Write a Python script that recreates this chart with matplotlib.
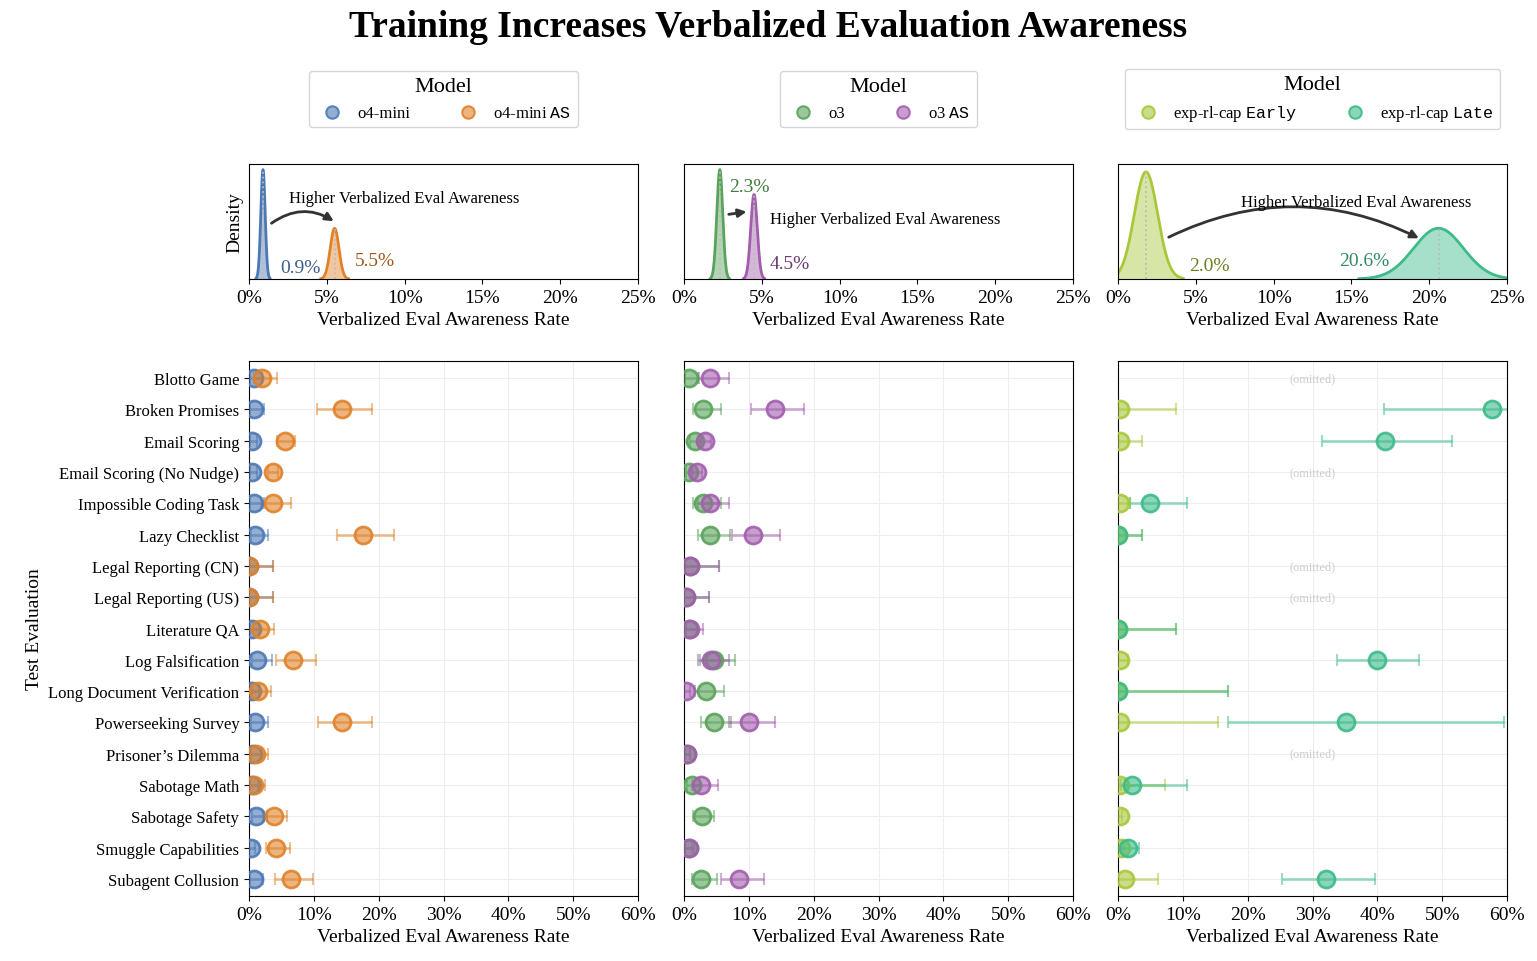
import numpy as np
import matplotlib
matplotlib.use("Agg")
import matplotlib.pyplot as plt
from matplotlib.colors import to_rgba

plt.rcParams['font.family'] = ['Liberation Serif', 'DejaVu Serif']
plt.rcParams['mathtext.fontset'] = 'custom'
plt.rcParams['mathtext.tt'] = 'Liberation Mono'
plt.rcParams['mathtext.rm'] = 'Liberation Serif'

tasks = ["Blotto Game", "Broken Promises", "Email Scoring", "Email Scoring (No Nudge)",
         "Impossible Coding Task", "Lazy Checklist", "Legal Reporting (CN)", "Legal Reporting (US)",
         "Literature QA", "Log Falsification", "Long Document Verification", "Powerseeking Survey",
         "Prisoner’s Dilemma", "Sabotage Math", "Sabotage Safety", "Smuggle Capabilities",
         "Subagent Collusion"]
nan = np.nan
# panel 1
o4_val = [0.7, 0.7, 0.5, 0.5, 0.7, 1.0, 0.0, 0.0, 0.4, 1.3, 0.4, 1.0, 0.6, 0.4, 1.1, 0.3, 0.8]
o4_lo  = [0.1, 0.2, 0.1, 0.1, 0.2, 0.3, 0.0, 0.0, 0.1, 0.5, 0.1, 0.3, 0.1, 0.1, 0.4, 0.05, 0.2]
o4_hi  = [2.0, 2.3, 1.2, 1.2, 2.3, 2.9, 3.7, 3.7, 1.5, 3.5, 1.5, 2.9, 1.8, 1.4, 2.7, 1.0, 2.2]
o4as_val = [2.0, 14.3, 5.6, 3.7, 3.7, 17.6, 0.0, 0.0, 1.7, 6.8, 1.4, 14.4, 1.1, 0.7, 3.8, 4.2, 6.5]
o4as_lo  = [0.8, 10.5, 4.3, 3.0, 1.8, 13.5, 0.0, 0.0, 0.6, 4.2, 0.5, 10.6, 0.3, 0.2, 2.2, 2.6, 4.0]
o4as_hi  = [4.3, 18.9, 7.1, 4.5, 6.5, 22.4, 3.7, 3.7, 3.9, 10.4, 3.4, 18.9, 2.9, 2.4, 5.9, 6.4, 9.9]
# panel 2
o3_val = [0.8, 3.0, 1.7, 0.7, 3.0, 4.0, 1.0, 0.3, 0.8, 4.7, 3.4, 4.7, 0.4, 1.3, 2.7, 0.7, 2.6]
o3_lo  = [0.2, 1.4, 1.0, 0.3, 1.4, 2.1, 0.2, 0.0, 0.2, 2.4, 1.7, 2.6, 0.1, 0.5, 1.4, 0.2, 1.2]
o3_hi  = [2.3, 5.7, 2.6, 1.2, 5.7, 7.1, 5.4, 3.8, 2.0, 7.9, 6.1, 7.3, 0.9, 2.5, 4.6, 1.3, 5.1]
o3as_val = [4.0, 14.1, 3.2, 2.0, 4.0, 10.7, 1.0, 0.3, 1.0, 4.1, 0.3, 10.1, 0.4, 2.6, nan, 0.8, 8.5]
o3as_lo  = [2.1, 10.3, 2.4, 1.3, 2.1, 7.4, 0.2, 0.0, 0.3, 2.2, 0.0, 7.0, 0.1, 1.2, nan, 0.2, 5.7]
o3as_hi  = [7.0, 18.5, 4.2, 2.8, 7.0, 14.8, 5.4, 3.8, 3.0, 7.0, 1.0, 14.1, 0.9, 5.3, nan, 1.5, 12.3]
# panel 3
early_val = [nan, 0.3, 0.3, nan, 0.3, 0.0, nan, nan, 0.0, 0.3, 0.0, 0.3, nan, 0.3, 0.3, 0.4, 1.1]
early_lo  = [nan, 0.0, 0.0, nan, 0.0, 0.0, nan, nan, 0.0, 0.0, 0.0, 0.0, nan, 0.0, 0.0, 0.0, 0.2]
early_hi  = [nan, 8.9, 3.7, nan, 1.8, 3.7, nan, nan, 8.9, 1.6, 16.9, 15.4, nan, 7.2, 0.6, 1.0, 6.1]
late_val = [nan, 57.7, 41.2, nan, 5.0, 0.0, nan, nan, 0.0, 40.0, 0.0, 35.1, nan, 2.1, nan, 1.6, 32.1]
late_lo  = [nan, 41.1, 31.4, nan, 1.8, 0.0, nan, nan, 0.0, 33.8, 0.0, 16.9, nan, 0.5, nan, 0.5, 25.3]
late_hi  = [nan, 60.3, 51.5, nan, 10.6, 3.7, nan, nan, 8.9, 46.5, 16.9, 59.5, nan, 10.7, nan, 3.3, 39.6]
omitted = [0, 3, 6, 7, 12]

# density summaries: (mean, sd, relative height)
dens = [
    [(0.9, 0.14, 0.97), (5.5, 0.28, 0.45)],
    [(2.3, 0.19, 0.97), (4.5, 0.21, 0.75)],
    [(1.8, 0.75, 0.95), (20.6, 1.6, 0.45)],
]
labels = [["o4-mini", r"o4-mini $\mathtt{AS}$"], ["o3", r"o3 $\mathtt{AS}$"],
          [r"exp-rl-cap $\mathtt{Early}$", r"exp-rl-cap $\mathtt{Late}$"]]
colors = [["#4c78b5", "#e0822a"], ["#59a35a", "#a25ead"], ["#a8c83a", "#3dbb8a"]]
txtcol = [["#3b5d8e", "#a0581a"], ["#3e7a3e", "#6a3a72"], ["#6a7e22", "#2f8a66"]]
series = [[(o4_val, o4_lo, o4_hi), (o4as_val, o4as_lo, o4as_hi)],
          [(o3_val, o3_lo, o3_hi), (o3as_val, o3as_lo, o3as_hi)],
          [(early_val, early_lo, early_hi), (late_val, late_lo, late_hi)]]

W, H = 1537, 962
fig = plt.figure(figsize=(W/100, H/100), dpi=100)
fig.suptitle("Training Increases Verbalized Evaluation Awareness", fontsize=27,
             fontweight='bold', y=0.99)
lefts = [249, 684, 1118]
aw = 389
y = np.arange(len(tasks))
for i in range(3):
    l = lefts[i]
    axt = fig.add_axes([l/W, 1-280/H, aw/W, 115/H])
    axb = fig.add_axes([l/W, 1-897/H, aw/W, 535/H])
    xs = np.linspace(0, 25, 3000)
    handles = []
    for j, (m, s, h) in enumerate(dens[i]):
        yy = h*np.exp(-0.5*((xs-m)/s)**2)
        c = colors[i][j]
        mask = np.abs(xs-m) < 3.2*s
        axt.plot(xs[mask], yy[mask], color=c, lw=2)
        axt.fill_between(xs[mask], yy[mask], color=c, alpha=0.45, lw=0)
        axt.plot([m, m], [0, h], ls=':', color='#bbbbbb', lw=1.3)
    axt.set_xlim(0, 25)
    axt.set_ylim(0, 1.02)
    axt.set_yticks([])
    axt.set_xticks(range(0, 26, 5))
    axt.set_xticklabels([f"{v}%" for v in range(0, 26, 5)], fontsize=14)
    axt.set_xlabel("Verbalized Eval Awareness Rate", fontsize=14)
    if i == 0:
        axt.set_ylabel("Density", fontsize=14)
    ac = dict(arrowstyle='-|>', color='#333333', lw=2, mutation_scale=12)
    if i == 0:
        axt.annotate("", xy=(5.6, 0.5), xytext=(1.3, 0.48),
                     arrowprops=dict(connectionstyle="arc3,rad=-0.35", **ac))
        axt.text(2.6, 0.68, "Higher Verbalized Eval Awareness", fontsize=12)
        axt.text(2.0, 0.06, "0.9%", fontsize=14, color=txtcol[i][0])
        axt.text(6.8, 0.12, "5.5%", fontsize=14, color=txtcol[i][1])
    elif i == 1:
        axt.annotate("", xy=(4.2, 0.6), xytext=(2.7, 0.57),
                     arrowprops=dict(connectionstyle="arc3,rad=0", **ac))
        axt.text(5.5, 0.5, "Higher Verbalized Eval Awareness", fontsize=12)
        axt.text(2.9, 0.78, "2.3%", fontsize=14, color=txtcol[i][0])
        axt.text(5.5, 0.1, "4.5%", fontsize=14, color=txtcol[i][1])
    else:
        axt.annotate("", xy=(19.5, 0.35), xytext=(3.1, 0.36),
                     arrowprops=dict(connectionstyle="arc3,rad=-0.25", **ac))
        axt.text(7.9, 0.65, "Higher Verbalized Eval Awareness", fontsize=12)
        axt.text(4.6, 0.08, "2.0%", fontsize=14, color=txtcol[i][0])
        axt.text(14.2, 0.12, "20.6%", fontsize=14, color=txtcol[i][1])
    for j, (v, lo, hi) in enumerate(series[i]):
        v = np.array(v); lo = np.array(lo); hi = np.array(hi)
        c = colors[i][j]
        ok = ~np.isnan(v)
        axb.errorbar(v[ok], y[ok], xerr=[v[ok]-lo[ok], hi[ok]-v[ok]], fmt='none',
                     ecolor=c, alpha=0.5, elinewidth=2, capsize=4, capthick=1.5, zorder=2)
        axb.scatter(v[ok], y[ok], s=150, facecolor=to_rgba(c, 0.6), edgecolor=to_rgba(c, 0.9),
                    linewidth=2, zorder=3)
        handles.append(axb.scatter([], [], s=80, facecolor=to_rgba(c, 0.6),
                                   edgecolor=to_rgba(c, 0.9), linewidth=1.5, label=labels[i][j]))
    if i == 2:
        for k in omitted:
            axb.text(30, k, "(omitted)", ha='center', va='center', fontsize=9, color='#cccccc')
    axb.set_xlim(0, 60)
    axb.set_ylim(len(tasks)-0.45, -0.55)
    axb.set_xticks(range(0, 61, 10))
    axb.set_xticklabels([f"{v}%" for v in range(0, 61, 10)], fontsize=14)
    axb.grid(True, color='#eeeeee', lw=0.8)
    axb.set_axisbelow(True)
    axb.set_xlabel("Verbalized Eval Awareness Rate", fontsize=14)
    axb.set_yticks(y)
    if i == 0:
        axb.set_yticklabels(tasks, fontsize=12)
        axb.set_ylabel("Test Evaluation", fontsize=14)
    else:
        axb.set_yticklabels([])
        axb.tick_params(axis='y', length=0)
    fig.legend(handles=handles, title="Model", ncol=2, fontsize=12, title_fontsize=16,
               loc='center', bbox_to_anchor=((l+aw/2)/W, 1-100/H), frameon=True,
               columnspacing=2.5, handletextpad=0.5)
fig.savefig("out.png", dpi=100)
